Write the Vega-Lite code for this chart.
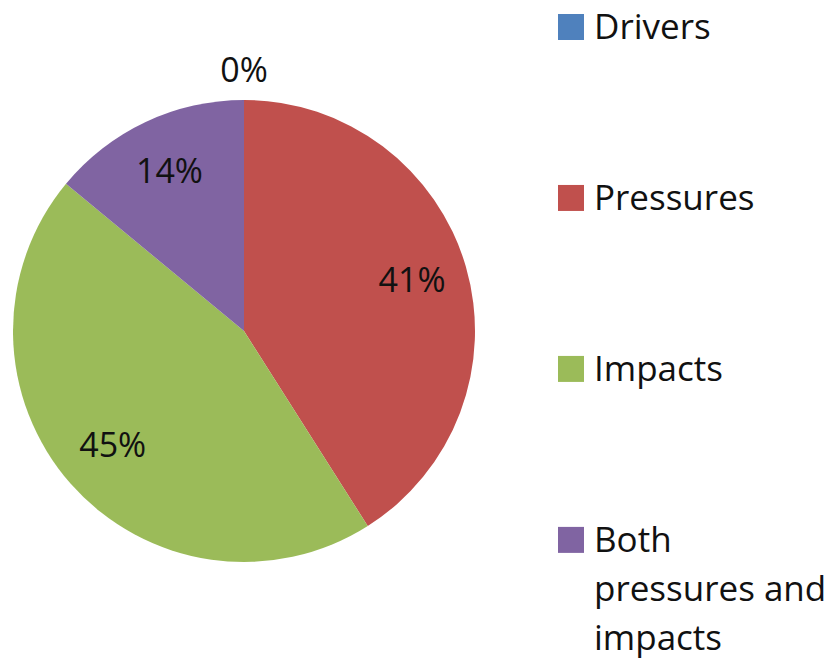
{
  "$schema": "https://vega.github.io/schema/vega-lite/v6.json",
  "background": "white",
  "padding": 0,
  "spacing": 31,
  "config": {
    "view": {"stroke": null},
    "font": "Open Sans"
  },
  "datasets": {
    "shares": [
      {"category": "Drivers", "legendLabel": "Drivers", "idx": 1, "share": 0.0},
      {"category": "Pressures", "legendLabel": "Pressures", "idx": 2, "share": 0.41},
      {"category": "Impacts", "legendLabel": "Impacts", "idx": 3, "share": 0.45},
      {"category": "Both pressures and impacts", "legendLabel": "Both\npressures and\nimpacts", "idx": 4, "share": 0.14}
    ]
  },
  "hconcat": [
    {
      "width": 488,
      "height": 662,
      "data": {"name": "shares"},
      "encoding": {
        "theta": {"field": "share", "type": "quantitative", "stack": true},
        "order": {"field": "idx", "type": "quantitative"}
      },
      "layer": [
        {
          "mark": {"type": "arc", "outerRadius": 231},
          "encoding": {
            "color": {
              "field": "category",
              "type": "nominal",
              "legend": null,
              "scale": {
                "domain": ["Drivers", "Pressures", "Impacts", "Both pressures and impacts"],
                "range": ["#4F81BD", "#C0504D", "#9BBB59", "#8064A2"]
              }
            }
          }
        },
        {
          "mark": {"type": "text", "radius": 175, "fontSize": 34, "color": "#111111", "align": "center", "baseline": "middle"},
          "encoding": {
            "detail": {"field": "category", "type": "nominal"},
            "text": {"field": "share", "type": "quantitative", "format": ".0%"},
            "opacity": {"condition": {"test": "datum.share > 0", "value": 1}, "value": 0}
          }
        },
        {
          "mark": {"type": "text", "radius": 259, "fontSize": 34, "color": "#111111", "align": "center", "baseline": "middle"},
          "encoding": {
            "detail": {"field": "category", "type": "nominal"},
            "text": {"field": "share", "type": "quantitative", "format": ".0%"},
            "opacity": {"condition": {"test": "datum.share == 0", "value": 1}, "value": 0}
          }
        }
      ]
    },
    {
      "width": 264,
      "height": 662,
      "data": {"name": "shares"},
      "encoding": {
        "y": {
          "field": "category",
          "type": "nominal",
          "sort": ["Drivers", "Pressures", "Impacts", "Both pressures and impacts"],
          "axis": null,
          "scale": {"type": "point", "padding": 0.436, "align": 0.181}
        },
        "x": {"datum": 0, "type": "quantitative", "scale": {"domain": [0, 1]}, "axis": null}
      },
      "layer": [
        {
          "mark": {"type": "square", "size": 676, "opacity": 1, "filled": true},
          "encoding": {
            "color": {
              "field": "category",
              "type": "nominal",
              "legend": null,
              "scale": {
                "domain": ["Drivers", "Pressures", "Impacts", "Both pressures and impacts"],
                "range": ["#4F81BD", "#C0504D", "#9BBB59", "#8064A2"]
              }
            }
          }
        },
        {
          "mark": {"type": "text", "align": "left", "baseline": "alphabetic", "dx": 23, "dy": 12, "fontSize": 35, "lineBreak": "\n", "lineHeight": 49, "color": "#111111"},
          "encoding": {
            "text": {"field": "legendLabel", "type": "nominal"}
          }
        }
      ]
    }
  ]
}
